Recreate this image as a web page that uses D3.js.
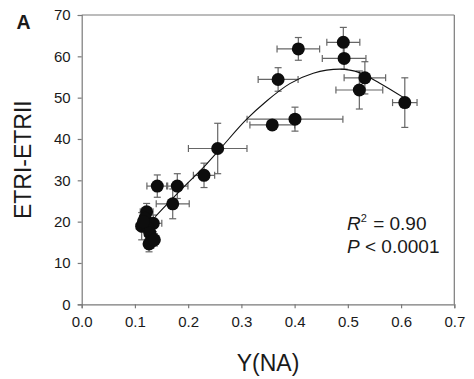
<!DOCTYPE html>
<html>
<head>
<meta charset="utf-8">
<script src="https://cdn.jsdelivr.net/npm/d3@7"></script>
<style>
html,body{margin:0;padding:0;background:#fff;}
svg{display:block;}
text{font-family:"Liberation Sans",Arial,sans-serif;fill:#1a1a1a;}
</style>
</head>
<body>
<svg id="chart" width="474" height="379"></svg>
<script>
// ---- data ----
const xVals = [0.4915,0.493,0.407,0.369,0.532,0.5216,0.607,0.358,0.4007,0.2555,0.2298,0.1796,0.142,0.171,
               0.122,0.119,0.1127,0.1345,0.125,0.128,0.130,0.1265,0.1365,0.116];
const yVals = [63.4,59.5,61.8,54.4,54.8,51.85,48.8,43.4,44.8,37.7,31.2,28.6,28.6,24.3,
               22.4,20.8,18.9,19.6,18.4,17.2,15.1,14.6,15.6,20.0];
const xErr  = [0.031,0.041,0.040,0.0375,0.039,0.044,0.023,0.042,0.090,0.055,0.020,0.020,0.0195,0.031,
               0.012,0.010,0.010,0.016,0.010,0.010,0.008,0.006,0.008,0.009];
const yErr  = [3.6,2.6,2.75,2.85,3.9,4.6,6.0,1.0,2.9,6.1,2.95,3.0,2.7,3.6,
               2.0,2.2,3.3,2.0,2.5,2.0,1.5,1.9,1.5,2.5];
const curveX = [0.138,0.185,0.235,0.260,0.310,0.3475,0.391,0.435,0.485,0.523,0.560,0.605];
const curveY = [21.2,27.5,34.0,37.6,44.8,49.2,53.4,55.9,56.9,56.0,53.5,50.0];
const xTicks = [0,0.1,0.2,0.3,0.4,0.5,0.6,0.7];
const yTicks = [0,10,20,30,40,50,60,70];

// ---- layout ----
const svg = d3.select("#chart");
const L = 81.7, R = 454.3, T = 15, B = 304.3;
const x = d3.scaleLinear().domain([0,0.7]).range([L,R]);
const y = d3.scaleLinear().domain([0,70]).range([B,T]);
const axisColor = "#7a7a7a";
const barColor = "#666";

// frame (top & right)
svg.append("line").attr("x1",L).attr("x2",R).attr("y1",T).attr("y2",T).attr("stroke",axisColor).attr("stroke-width",1.2);
svg.append("line").attr("x1",R).attr("x2",R).attr("y1",T).attr("y2",B).attr("stroke",axisColor).attr("stroke-width",1.2);

const xAxis = svg.append("g").attr("transform",`translate(0,${B})`)
  .call(d3.axisBottom(x).tickValues(xTicks).tickFormat(d3.format(".1f")).tickSize(4).tickPadding(8));
const yAxis = svg.append("g").attr("transform",`translate(${L},0)`)
  .call(d3.axisLeft(y).tickValues(yTicks).tickFormat(d3.format("d")).tickSize(4).tickPadding(7));
[xAxis,yAxis].forEach(g=>{
  g.select(".domain").attr("stroke",axisColor).attr("stroke-width",1.2);
  g.selectAll(".tick line").attr("stroke",axisColor).attr("stroke-width",1.2);
  g.selectAll(".tick text").attr("font-size",15).attr("fill","#1a1a1a")
   .style("font-family","'Liberation Sans',Arial,sans-serif");
});

// error bars
const pts = xVals.map((v,i)=>({x:v,y:yVals[i],xe:xErr[i],ye:yErr[i]}));
const cap = 3.5;
const eb = svg.append("g").attr("stroke",barColor).attr("stroke-width",1.2).attr("fill","none");
pts.forEach(p=>{
  const cx = x(p.x), cy = y(p.y);
  const x1 = x(p.x-p.xe), x2 = x(p.x+p.xe), y1 = y(p.y+p.ye), y2 = y(p.y-p.ye);
  eb.append("line").attr("x1",x1).attr("x2",x2).attr("y1",cy).attr("y2",cy);
  eb.append("line").attr("x1",x1).attr("x2",x1).attr("y1",cy-cap).attr("y2",cy+cap);
  eb.append("line").attr("x1",x2).attr("x2",x2).attr("y1",cy-cap).attr("y2",cy+cap);
  eb.append("line").attr("x1",cx).attr("x2",cx).attr("y1",y1).attr("y2",y2);
  eb.append("line").attr("x1",cx-cap).attr("x2",cx+cap).attr("y1",y1).attr("y2",y1);
  eb.append("line").attr("x1",cx-cap).attr("x2",cx+cap).attr("y1",y2).attr("y2",y2);
});

// fitted curve
const curvePts = curveX.map((v,i)=>[v,curveY[i]]);
svg.append("path").datum(curvePts)
  .attr("d", d3.line().x(d=>x(d[0])).y(d=>y(d[1])).curve(d3.curveMonotoneX))
  .attr("fill","none").attr("stroke","#111").attr("stroke-width",1.1);

// points
svg.append("g").selectAll("circle").data(pts).join("circle")
  .attr("cx",d=>x(d.x)).attr("cy",d=>y(d.y)).attr("r",6.5).attr("fill","#0d0d0d");

// labels
svg.append("text").attr("x",268).attr("y",370.5).attr("text-anchor","middle").attr("font-size",23).text("Y(NA)");
svg.append("text").attr("transform",`translate(31,${(T+B)/2}) rotate(-90)`).attr("text-anchor","middle")
  .attr("font-size",23).text("ETRI-ETRII");
svg.append("text").attr("x",16.5).attr("y",28.5).attr("font-size",19.5).attr("font-weight","bold").text("A");

const t1 = svg.append("text").attr("x",347).attr("y",230).attr("font-size",19);
t1.append("tspan").attr("font-style","italic").text("R");
t1.append("tspan").attr("font-size",11).attr("dy",-8).text("2");
t1.append("tspan").attr("dy",8).attr("dx",1).text(" = 0.90");
const t2 = svg.append("text").attr("x",347).attr("y",252.5).attr("font-size",19);
t2.append("tspan").attr("font-style","italic").text("P");
t2.append("tspan").text(" < 0.0001");
</script>
</body>
</html>
